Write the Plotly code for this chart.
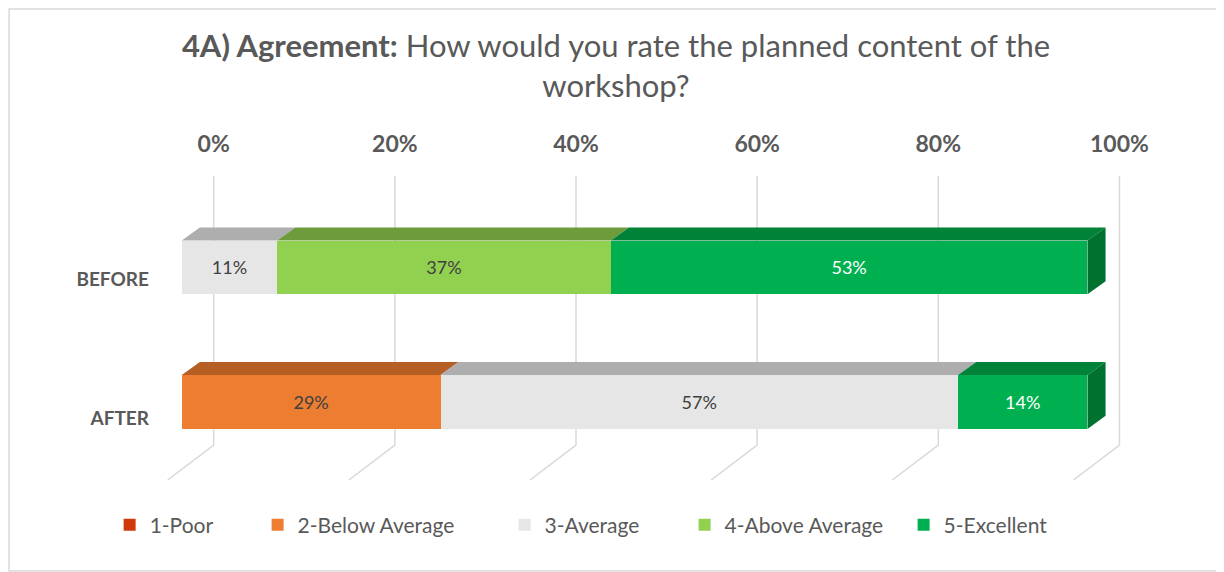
import plotly.graph_objects as go

# data (percent of respondents)
categories = ["BEFORE", "AFTER"]
series = ["1-Poor", "2-Below Average", "3-Average", "4-Above Average", "5-Excellent"]
before = [0, 0, 10.53, 36.84, 52.63]
after = [0, 28.57, 57.14, 0, 14.29]
x_ticks = [0, 20, 40, 60, 80, 100]

face = ["#D03A0A", "#ED7D31", "#E6E6E6", "#92D050", "#00B050"]
top = ["#9C2C08", "#B65F25", "#AEAEAE", "#6E9C3C", "#008238"]
side = ["#8A2707", "#A0531F", "#999999", "#5F8734", "#00712F"]
label_col = ["#404040", "#404040", "#404040", "#404040", "#FFFFFF"]
legend_x = [-0.0514, 0.0996, 0.3516, 0.5353, 0.7588]   # one small legend per series

# fake 3D offsets, in data units
BAR_H = 0.4
BAR_DX, BAR_DY = 2.0, -0.097
WALL_DX, WALL_FLOOR = 3.53, 1.32
FRONT_DX, FRONT_FLOOR = -1.55, 1.58
Y_TOP = -0.68
GRID = "#D9D9D9"
TXT = "#595959"
FONT = "Lato"

fig = go.Figure()
for s, name in enumerate(series):
    vals = [before[s], after[s]]
    fig.add_trace(go.Bar(
        y=[0, 1], x=vals, orientation="h", name=name, width=BAR_H,
        marker=dict(color=face[s], line=dict(width=0)),
        text=[f"{round(v)}%" if v else "" for v in vals],
        textposition="inside", insidetextanchor="middle",
        textfont=dict(family=FONT, size=18, color=label_col[s]),
        legend="legend" if s == 0 else f"legend{s + 1}",
        hovertemplate="%{x:.1f}%<extra>" + name + "</extra>",
    ))

shapes = []
# gridlines on the back wall, bending onto the floor
for v in x_ticks:
    shapes.append(dict(
        type="path", xref="x", yref="y", layer="below",
        path=f"M {v + WALL_DX},{Y_TOP} L {v + WALL_DX},{WALL_FLOOR} L {v + FRONT_DX},{FRONT_FLOOR}",
        line=dict(color=GRID, width=1.5),
    ))

# top faces of each segment and the side face at the end of each bar
for row, vals in enumerate([before, after]):
    yt = row - BAR_H / 2
    yb = row + BAR_H / 2
    x0 = 0.0
    last = None
    for s, v in enumerate(vals):
        if not v:
            continue
        x1 = x0 + v
        shapes.append(dict(
            type="path", xref="x", yref="y", layer="above", line=dict(width=0),
            fillcolor=top[s],
            path=f"M {x0},{yt} L {x1},{yt} L {x1 + BAR_DX},{yt + BAR_DY} L {x0 + BAR_DX},{yt + BAR_DY} Z",
        ))
        x0 = x1
        last = s
    shapes.append(dict(
        type="path", xref="x", yref="y", layer="above", line=dict(width=0),
        fillcolor=side[last],
        path=f"M {x0},{yt} L {x0 + BAR_DX},{yt + BAR_DY} L {x0 + BAR_DX},{yb + BAR_DY} L {x0},{yb} Z",
    ))

# chart border
shapes.append(dict(type="rect", xref="paper", yref="paper",
                   x0=-0.154, x1=1.0847, y0=-0.299, y1=1.549,
                   line=dict(color="#D9D9D9", width=1.5), layer="below"))

legends = {}
for s, lx in enumerate(legend_x):
    key = "legend" if s == 0 else f"legend{s + 1}"
    legends[key] = dict(
        orientation="h", x=lx, xanchor="left", y=-0.148, yanchor="middle",
        font=dict(family=FONT, size=21, color=TXT), bgcolor="rgba(0,0,0,0)",
    )

fig.update_layout(
    width=1216, height=564,
    margin=dict(l=152, r=84, t=168, b=92, autoexpand=False),
    paper_bgcolor="white", plot_bgcolor="white",
    barmode="stack", shapes=shapes,
    font=dict(family=FONT, color=TXT),
    title=dict(
        text="<b>4A) Agreement:</b> How would you rate the planned content of the<br>workshop?",
        x=0.5, xanchor="center", y=0.913, yanchor="top",
        font=dict(family=FONT, size=31, color=TXT),
    ),
    xaxis=dict(
        range=[-2.4, 105.8], side="top", showgrid=False, zeroline=False, showline=False,
        automargin=False,
        tickmode="array", tickvals=[v + WALL_DX for v in x_ticks],
        ticktext=[f"{v}%" for v in x_ticks], ticks="", ticklabelstandoff=18,
        tickfont=dict(family=FONT, size=23, color=TXT, weight="bold"),
    ),
    yaxis=dict(
        range=[FRONT_FLOOR, Y_TOP], showgrid=False, zeroline=False, showline=False,
        automargin=False,
        tickmode="array", tickvals=[0.085, 1.12], ticktext=categories, ticks="",
        ticklabelstandoff=10,
        tickfont=dict(family=FONT, size=19, color=TXT, weight="bold"),
    ),
    showlegend=True,
    **legends,
)

fig.write_html("out.html")
